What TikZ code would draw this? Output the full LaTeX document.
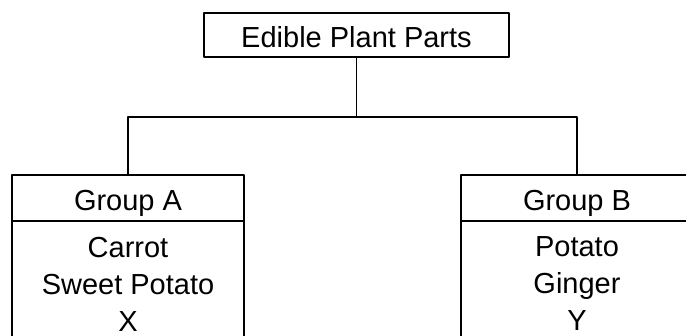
\documentclass[tikz,border=0pt]{standalone}
\usepackage{fontspec}
\setmainfont{Liberation Sans}
\usetikzlibrary{positioning}
\begin{document}
\begin{tikzpicture}[x=1pt, y=1pt, line join=round, line cap=round, line width=1.7pt]
	\tikzset{every node/.style={font=\fontsize{29}{37}\selectfont, align=center},
		box/.style={draw, rectangle, inner sep=0pt, outer sep=0pt},
		headbox/.style={box, minimum width=232, minimum height=46, text height=25pt, text depth=0pt},
		listbox/.style={box, minimum width=232, minimum height=126}}
	\useasboundingbox (0,0) rectangle (686,-336);
	\node[box, minimum width=305, minimum height=44, text height=25pt, text depth=0pt] (root) at (356.5,-35) {Edible Plant Parts};
	\coordinate[below=60pt of root.south] (fork);
	\node[headbox] (groupA) at (128,-198) {Group A};
	\node[listbox, below=0pt of groupA] (listA) {Carrot\\Sweet Potato\\X};
	\node[headbox] (groupB) at (577,-198) {Group B};
	\node[listbox, below=0pt of groupB] (listB) {Potato\\Ginger\\Y};
	\draw (root) -- (fork);
	\draw (groupA) |- (fork) -| (groupB);
\end{tikzpicture}
\end{document}
